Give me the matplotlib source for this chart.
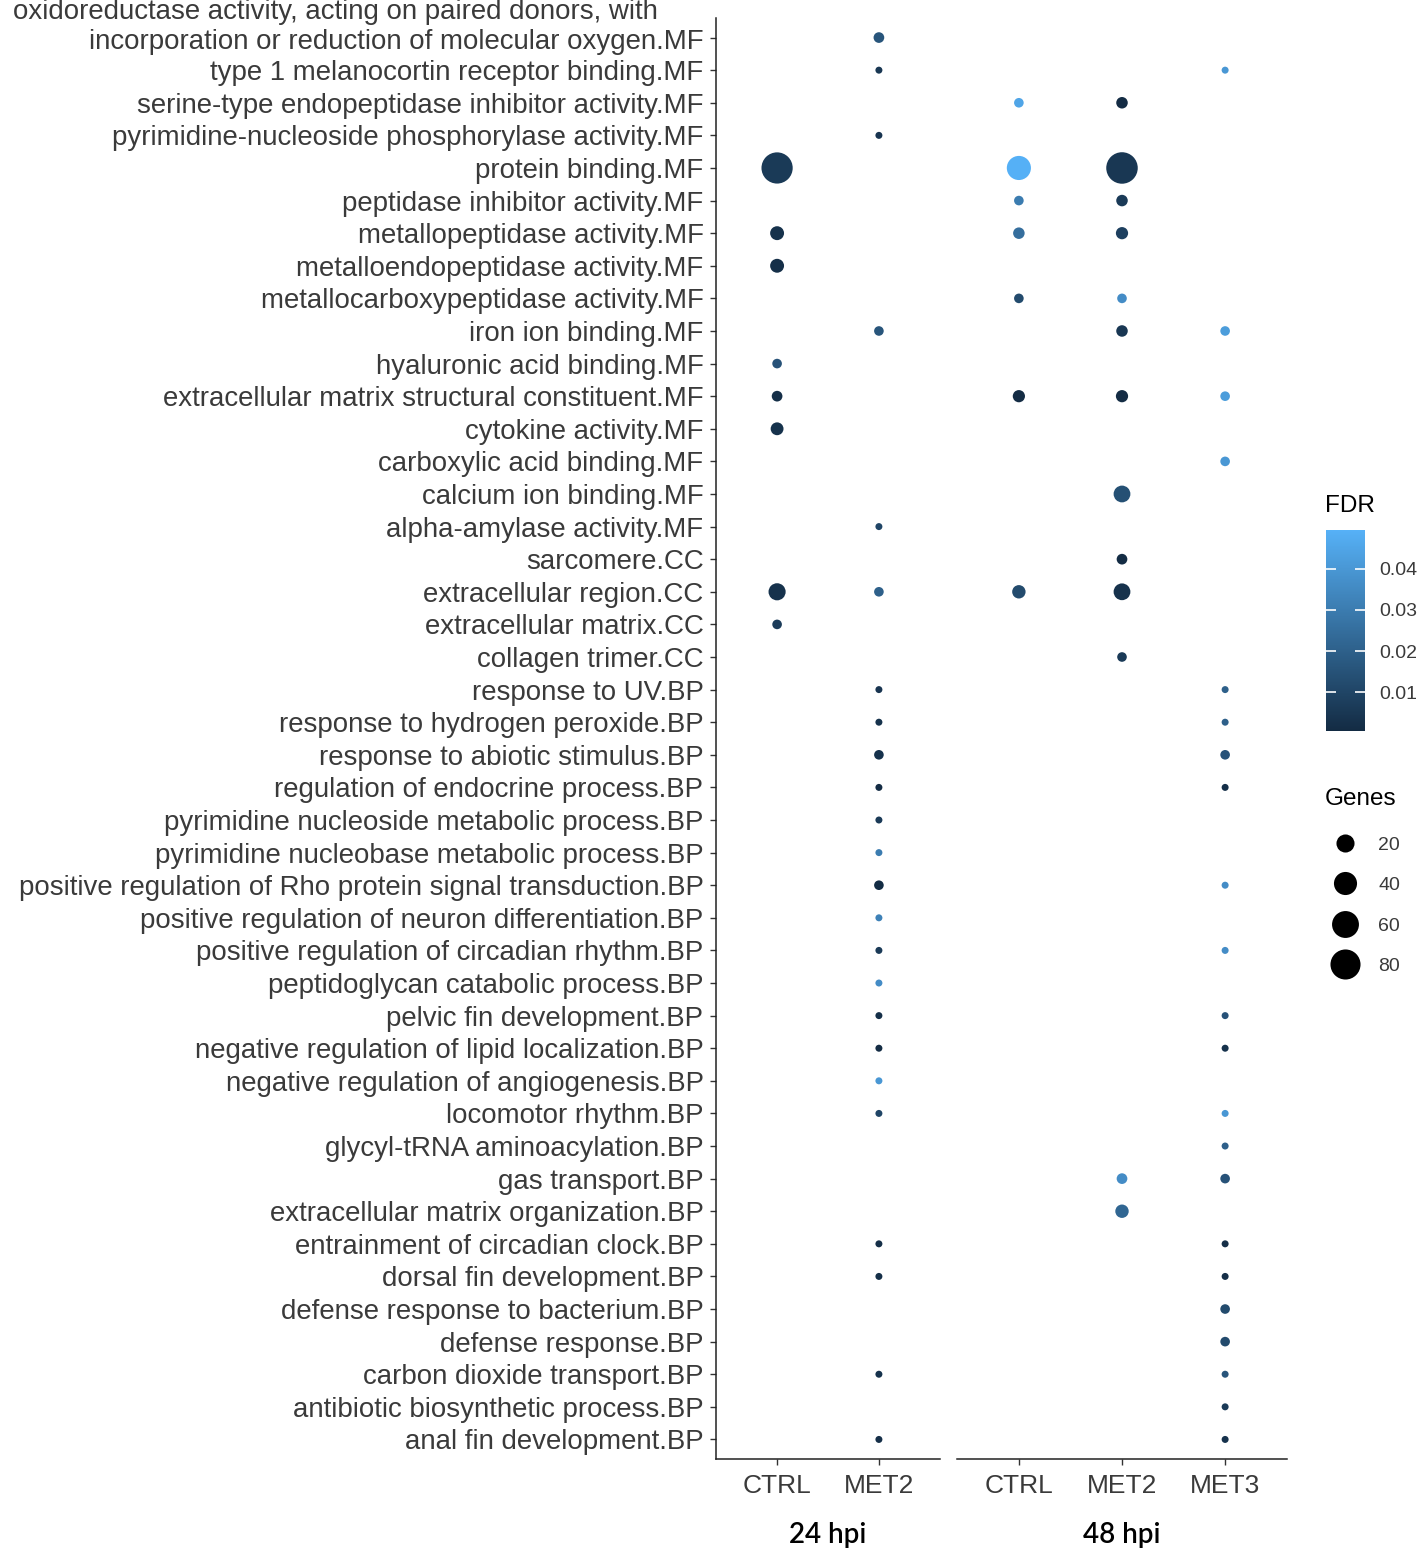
import numpy as np
import matplotlib
matplotlib.use("Agg")
import matplotlib.pyplot as plt
import matplotlib.transforms as mtransforms
from matplotlib.colors import LinearSegmentedColormap, Normalize
from matplotlib.cm import ScalarMappable
from matplotlib.lines import Line2D

plt.rcParams['font.family'] = ['Liberation Sans', 'DejaVu Sans']

# GO terms, top to bottom
terms = [
    "oxidoreductase activity, acting on paired donors, with      \nincorporation or reduction of molecular oxygen.MF",
    "type 1 melanocortin receptor binding.MF",
    "serine-type endopeptidase inhibitor activity.MF",
    "pyrimidine-nucleoside phosphorylase activity.MF",
    "protein binding.MF",
    "peptidase inhibitor activity.MF",
    "metallopeptidase activity.MF",
    "metalloendopeptidase activity.MF",
    "metallocarboxypeptidase activity.MF",
    "iron ion binding.MF",
    "hyaluronic acid binding.MF",
    "extracellular matrix structural constituent.MF",
    "cytokine activity.MF",
    "carboxylic acid binding.MF",
    "calcium ion binding.MF",
    "alpha-amylase activity.MF",
    "sarcomere.CC",
    "extracellular region.CC",
    "extracellular matrix.CC",
    "collagen trimer.CC",
    "response to UV.BP",
    "response to hydrogen peroxide.BP",
    "response to abiotic stimulus.BP",
    "regulation of endocrine process.BP",
    "pyrimidine nucleoside metabolic process.BP",
    "pyrimidine nucleobase metabolic process.BP",
    "positive regulation of Rho protein signal transduction.BP",
    "positive regulation of neuron differentiation.BP",
    "positive regulation of circadian rhythm.BP",
    "peptidoglycan catabolic process.BP",
    "pelvic fin development.BP",
    "negative regulation of lipid localization.BP",
    "negative regulation of angiogenesis.BP",
    "locomotor rhythm.BP",
    "glycyl-tRNA aminoacylation.BP",
    "gas transport.BP",
    "extracellular matrix organization.BP",
    "entrainment of circadian clock.BP",
    "dorsal fin development.BP",
    "defense response to bacterium.BP",
    "defense response.BP",
    "carbon dioxide transport.BP",
    "antibiotic biosynthetic process.BP",
    "anal fin development.BP",
]

groups_24 = ["CTRL", "MET2"]
groups_48 = ["CTRL", "MET2", "MET3"]

# row index (0 = top term), gene count, FDR
ctrl24_rows = [4, 6, 7, 10, 11, 12, 17, 18]
ctrl24_genes = [88, 9, 9, 3, 4, 7, 17, 3]
ctrl24_fdr = [0.006, 0.003, 0.002, 0.015, 0.002, 0.003, 0.003, 0.007]

met224_rows = [0, 1, 3, 9, 15, 17, 20, 21, 22, 23, 24, 25, 26, 27, 28, 29,
               30, 31, 32, 33, 37, 38, 41, 43]
met224_genes = [4, 2, 2, 3, 2, 3, 2, 2, 3, 2, 2, 2, 3, 2, 2, 2,
                2, 2, 2, 2, 2, 2, 2, 2]
met224_fdr = [0.016, 0.005, 0.004, 0.016, 0.010, 0.020, 0.004, 0.003, 0.003,
              0.001, 0.006, 0.030, 0.0008, 0.032, 0.006, 0.036, 0.002, 0.001,
              0.040, 0.010, 0.002, 0.002, 0.003, 0.002]

ctrl48_rows = [2, 4, 5, 6, 8, 11, 17]
ctrl48_genes = [3, 45, 3, 5, 3, 6, 8]
ctrl48_fdr = [0.045, 0.049, 0.030, 0.025, 0.012, 0.001, 0.012]

met248_rows = [2, 4, 5, 6, 8, 9, 11, 14, 16, 17, 19, 35, 36]
met248_genes = [5, 90, 5, 6, 3, 5, 6, 16, 4, 16, 3, 4, 8]
met248_fdr = [0.001, 0.005, 0.006, 0.008, 0.036, 0.005, 0.001, 0.014, 0.001,
              0.003, 0.006, 0.036, 0.022]

met348_rows = [1, 9, 11, 13, 20, 21, 22, 23, 26, 28, 30, 31, 33, 34, 35, 37,
               38, 39, 40, 41, 42, 43]
met348_genes = [2, 3, 3, 3, 2, 2, 3, 2, 2, 2, 2, 2, 2, 2, 3, 2,
                2, 3, 3, 2, 2, 2]
met348_fdr = [0.040, 0.042, 0.042, 0.040, 0.020, 0.020, 0.015, 0.002, 0.036,
              0.036, 0.015, 0.003, 0.040, 0.020, 0.015, 0.002, 0.002, 0.012,
              0.012, 0.016, 0.006, 0.003]

fdr_ticks = [0.01, 0.02, 0.03, 0.04]
fdr_limits = (0.0005, 0.0495)
legend_genes = [20, 40, 60, 80]

W, H, DPI = 1417, 1553, 100
cmap = LinearSegmentedColormap.from_list("ggblue", ["#132B43", "#56B1F7"])
norm = Normalize(*fdr_limits)

all_genes = ctrl24_genes + met224_genes + ctrl48_genes + met248_genes + met348_genes
gmin, gmax = min(all_genes), max(all_genes)


def size_pt(g):
    # ggplot-like area scale, diameter converted to points
    g = np.asarray(g, dtype=float)
    d_px = 7 + 24.5 * np.sqrt((g - gmin) / (gmax - gmin))
    return d_px * 72 / DPI


fig = plt.figure(figsize=(W / DPI, H / DPI), dpi=DPI)
ytop, ybot = 18, 1459
ax1 = fig.add_axes([716 / W, 1 - ybot / H, (940 - 716) / W, (ybot - ytop) / H])
ax2 = fig.add_axes([957 / W, 1 - ybot / H, (1287 - 957) / W, (ybot - ytop) / H])

n = len(terms)
text_col = "#3a3a3a"


def ypos(rows):
    return [n - 1 - r for r in rows]


def draw(ax, col, rows, genes, fdr):
    d = size_pt(genes)
    ax.scatter([col] * len(rows), ypos(rows), s=d ** 2, c=fdr, cmap=cmap,
               norm=norm, linewidths=0, zorder=3)


draw(ax1, 0, ctrl24_rows, ctrl24_genes, ctrl24_fdr)
draw(ax1, 1, met224_rows, met224_genes, met224_fdr)
draw(ax2, 0, ctrl48_rows, ctrl48_genes, ctrl48_fdr)
draw(ax2, 1, met248_rows, met248_genes, met248_fdr)
draw(ax2, 2, met348_rows, met348_genes, met348_fdr)

for ax, grp, lab in [(ax1, groups_24, "24 hpi"), (ax2, groups_48, "48 hpi")]:
    ax.set_xlim(-0.6, len(grp) - 0.4)
    ax.set_ylim(-0.6, n - 0.4)
    ax.set_xticks(range(len(grp)))
    ax.set_xticklabels(grp)
    for s in ["top", "right"]:
        ax.spines[s].set_visible(False)
    ax.spines["bottom"].set_linewidth(1.1)
    ax.spines["bottom"].set_color("#222222")
    ax.tick_params(axis="x", length=4, width=1, color="#333333",
                   labelsize=19, labelcolor=text_col, pad=7)
    ax.set_xlabel(lab, fontsize=20, family=["Lato", "DejaVu Sans"],
                  fontweight="semibold", color="black", labelpad=17)

ax1.spines["left"].set_linewidth(1.1)
ax1.spines["left"].set_color("#222222")
ax1.set_yticks(ypos(range(n)))
ax1.set_yticklabels(terms)
ax1.tick_params(axis="y", length=4, width=1, color="#333333",
                labelsize=19.9, labelcolor=text_col, pad=5)
ax2.spines["left"].set_visible(False)
ax2.set_yticks([])

# two-line label: align the last line with its tick
first = ax1.get_yticklabels()[0]
first.set_va("bottom")
first.set_transform(first.get_transform() +
                    mtransforms.ScaledTranslation(0, -17 / DPI, fig.dpi_scale_trans))

# FDR colorbar
cax = fig.add_axes([1326 / W, 1 - 731 / H, 39 / W, 201 / H])
cb = fig.colorbar(ScalarMappable(norm=norm, cmap=cmap), cax=cax)
cb.set_ticks(fdr_ticks)
cb.set_ticklabels([f"{t:.2f}" for t in fdr_ticks])
cb.outline.set_visible(False)
cax.tick_params(axis="y", direction="in", length=7, width=1.2, color="white",
                labelcolor=text_col, labelsize=14, left=True, right=True, pad=10)
fig.text(1325 / W, 1 - 506 / H, "FDR", fontsize=17.5, color="black",
         ha="left", va="center")

# Genes size legend
fig.text(1325 / W, 1 - 799 / H, "Genes", fontsize=17.5, color="black",
         ha="left", va="center")
handles = [Line2D([], [], marker="o", ls="", color="black", markeredgewidth=0,
                  markersize=float(size_pt(g))) for g in legend_genes]
leg = fig.legend(handles, [str(g) for g in legend_genes],
                 loc="upper left", bbox_to_anchor=(1325 / W, 1 - 836 / H),
                 frameon=False, fontsize=14, numpoints=1,
                 borderpad=0, borderaxespad=0, handlelength=2.06,
                 handletextpad=0.67, labelspacing=1.18)
for t in leg.get_texts():
    t.set_color(text_col)

fig.savefig("out.png", dpi=DPI)
